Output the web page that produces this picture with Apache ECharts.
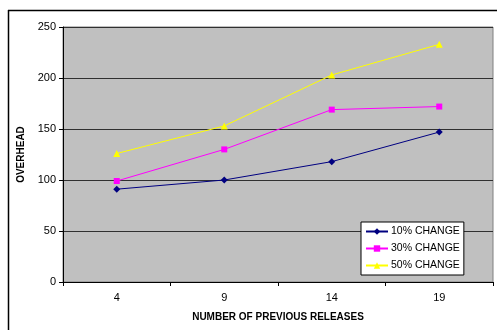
<!DOCTYPE html>
<html>
<head>
<meta charset="utf-8">
<script src="https://cdn.jsdelivr.net/npm/echarts@6/dist/echarts.min.js"></script>
<style>html,body{margin:0;padding:0;background:#fff}#c{width:497px;height:330px}</style>
</head>
<body>
<div id="c"></div>
<script>
var categories = ['4', '9', '14', '19'];
var change10 = [91, 100, 118, 147];
var change30 = [99, 130, 169, 172];
var change50 = [126, 153, 203, 233];
var seriesNames = ['10% CHANGE', '30% CHANGE', '50% CHANGE'];
var yTicks = { min: 0, max: 250, interval: 50 };

var chart = echarts.init(document.getElementById('c'), null, { renderer: 'canvas' });
var font = 'Arial, "Liberation Sans", sans-serif';
chart.setOption({
  animation: false,
  backgroundColor: '#ffffff',
  graphic: [
    { type: 'line', shape: { x1: 8, y1: 10.5, x2: 497, y2: 10.5 }, style: { stroke: '#000', lineWidth: 1.5 } },
    { type: 'line', shape: { x1: 8.5, y1: 10, x2: 8.5, y2: 330 }, style: { stroke: '#000', lineWidth: 1.5 } }
  ],
  grid: {
    left: 63, top: 27, right: 4, bottom: 48,
    show: true, backgroundColor: '#c0c0c0', borderColor: '#808080', borderWidth: 1
  },
  legend: {
    orient: 'vertical', left: 361, top: 222,
    backgroundColor: '#ffffff', borderColor: '#000', borderWidth: 1,
    padding: [4, 4, 4, 4], itemGap: 6, itemWidth: 22, itemHeight: 8,
    textStyle: { fontFamily: font, fontSize: 10.5, color: '#000', padding: [0, 0, 0, -2] },
    data: seriesNames
  },
  xAxis: {
    type: 'category', data: categories, boundaryGap: true,
    name: 'NUMBER OF PREVIOUS RELEASES', nameLocation: 'middle', nameGap: 30,
    nameTextStyle: { fontFamily: font, fontSize: 10, fontWeight: 'bold', color: '#000' },
    axisLine: { show: true, lineStyle: { color: '#000', width: 1 } },
    axisTick: { show: true, alignWithLabel: false, length: 4, lineStyle: { color: '#000' } },
    axisLabel: { fontFamily: font, fontSize: 11, color: '#000', margin: 10 },
    splitLine: { show: false }
  },
  yAxis: {
    type: 'value', min: yTicks.min, max: yTicks.max, interval: yTicks.interval,
    name: 'OVERHEAD', nameLocation: 'middle', nameGap: 30, nameRotate: 90,
    nameTextStyle: { fontFamily: font, fontSize: 10, fontWeight: 'bold', color: '#000' },
    axisLine: { show: true, lineStyle: { color: '#000', width: 1 } },
    axisTick: { show: true, length: 4, lineStyle: { color: '#000' } },
    axisLabel: { fontFamily: font, fontSize: 11, color: '#000', margin: 7 },
    splitLine: { show: true, lineStyle: { color: '#303030', width: 1 } }
  },
  series: [
    { name: seriesNames[0], type: 'line', data: change10, symbol: 'diamond', symbolSize: 7,
      lineStyle: { color: '#000080', width: 1 }, itemStyle: { color: '#000080' } },
    { name: seriesNames[1], type: 'line', data: change30, symbol: 'rect', symbolSize: 6,
      lineStyle: { color: '#ff00ff', width: 1 }, itemStyle: { color: '#ff00ff' } },
    { name: seriesNames[2], type: 'line', data: change50, symbol: 'triangle', symbolSize: 7,
      lineStyle: { color: '#ffff00', width: 1 }, itemStyle: { color: '#ffff00' } }
  ]
});
</script>
</body>
</html>
